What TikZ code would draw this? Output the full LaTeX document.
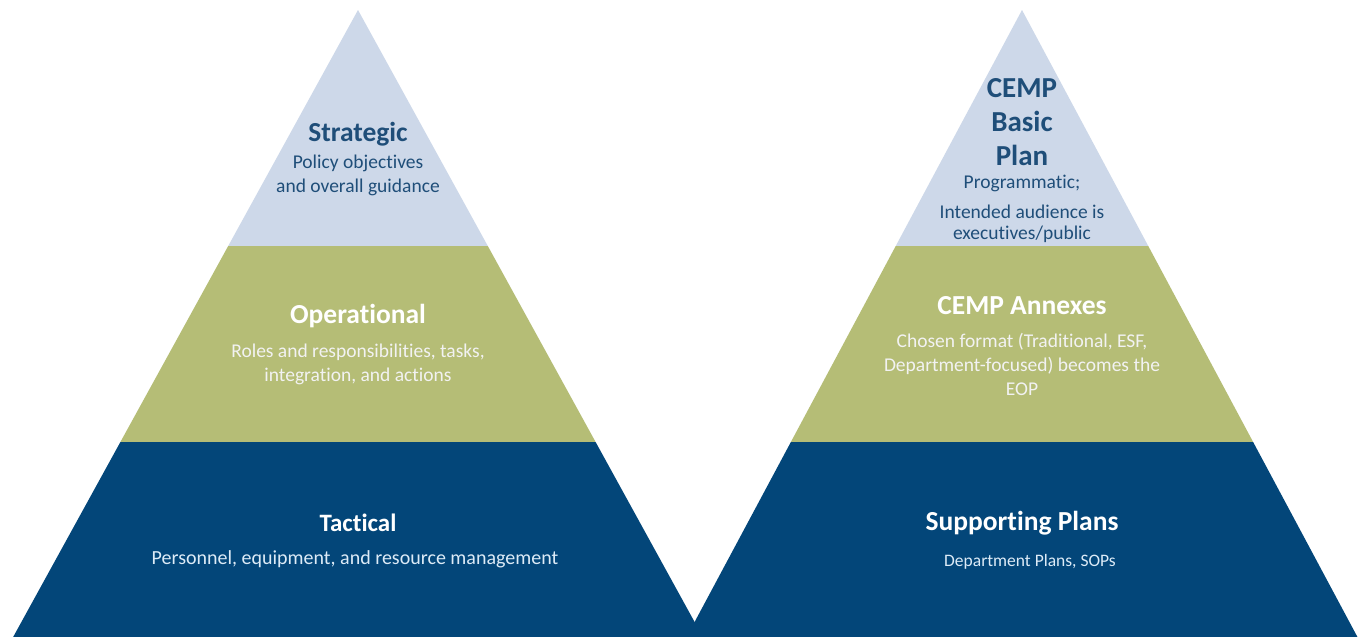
\documentclass[tikz,border=0pt]{standalone}
\usepackage{fontspec}
\setmainfont{Carlito}[Ligatures=NoCommon]
\definecolor{tierlight}{HTML}{CDD8E9}
\definecolor{tiermid}{HTML}{B5BD76}
\definecolor{tierdark}{HTML}{034679}
\definecolor{inkdark}{HTML}{1F4E79}
\definecolor{inkpale}{HTML}{DDEBF7}
\tikzset{
  head/.style={font=\fontsize{27.5}{30}\selectfont\bfseries, align=center, inner sep=0pt},
  body/.style={font=\fontsize{19.5}{24}\selectfont, align=center, inner sep=0pt},
}
\begin{document}
\begin{tikzpicture}[x=1pt,y=-1pt]
\useasboundingbox (0,0) rectangle (1363,637);
\fill[white] (0,0) rectangle (1363,637);

% left pyramid: strategic / operational / tactical
\begin{scope}
  \clip (358,10) -- (0.5,660) -- (715.5,660) -- cycle;
  \fill[tierlight] (0,0) rectangle (720,246);
  \fill[tiermid] (0,246) rectangle (720,442);
  \fill[tierdark] (0,442) rectangle (720,660);
\end{scope}

% right pyramid: plan documents
\begin{scope}
  \clip (1022,10) -- (674.25,660) -- (1369.75,660) -- cycle;
  \fill[tierlight] (670,0) rectangle (1370,246);
  \fill[tiermid] (670,246) rectangle (1370,442);
  \fill[tierdark] (670,442) rectangle (1370,660);
\end{scope}

% left labels
\node[head, text=inkdark] (strat) at (358,134) {Strategic};
\node[body, text=inkdark] (stratd) at (358,175) {Policy objectives\\and overall guidance};
\node[head, text=white] (oper) at (358,316) {Operational};
\node[body, text=white!95!black] (operd) at (358,364) {Roles and responsibilities, tasks,\\integration, and actions};
\node[head, text=white, font=\fontsize{25}{28}\selectfont\bfseries] (tact) at (358,523) {Tactical};
\node[body, text=inkpale, font=\fontsize{20}{24}\selectfont] (tactd) at (355,559) {Personnel, equipment, and resource management};

% right labels
\node[head, text=inkdark, font=\fontsize{29}{34}\selectfont\bfseries] (basic) at (1022,122) {CEMP\\Basic\\Plan};
\node[body, text=inkdark] (basicd) at (1022,183) {Programmatic;};
\node[body, text=inkdark, font=\fontsize{19.5}{21}\selectfont] (basicd2) at (1022,223.5) {Intended audience is\\executives/public};
\node[head, text=white] (annex) at (1022,306) {CEMP Annexes};
\node[body, text=white!95!black] (annexd) at (1022,364) {Chosen format (Traditional, ESF,\\Department-focused) becomes the\\EOP};
\node[head, text=white] (supp) at (1022,523) {Supporting Plans};
\node[body, text=inkpale, font=\fontsize{17.5}{22}\selectfont] (suppd) at (1030,562) {Department Plans, SOPs};
\end{tikzpicture}
\end{document}
